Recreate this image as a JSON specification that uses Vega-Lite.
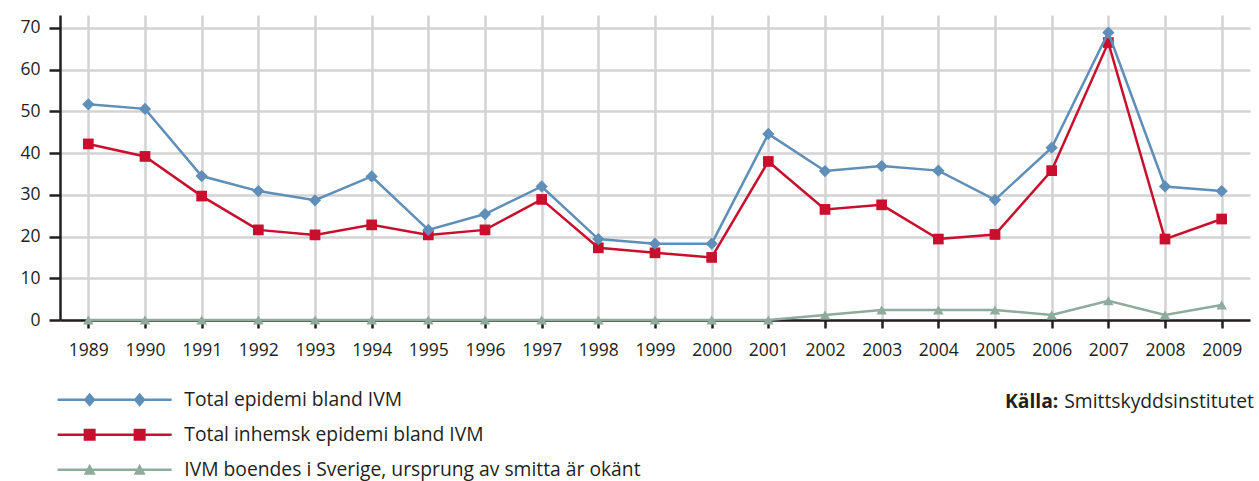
{
  "$schema": "https://vega.github.io/schema/vega-lite/v6.json",
  "autosize": {"type": "none"},
  "width": 1190,
  "height": 305,
  "padding": {"left": 60, "top": 15, "right": 9, "bottom": 161},
  "background": "white",
  "config": {
    "view": {"stroke": null},
    "font": "Open Sans"
  },
  "layer": [
    {
      "data": {"values": [
        {"year": "1989", "series": "Total epidemi bland IVM", "value": 51.7},
        {"year": "1990", "series": "Total epidemi bland IVM", "value": 50.6},
        {"year": "1991", "series": "Total epidemi bland IVM", "value": 34.5},
        {"year": "1992", "series": "Total epidemi bland IVM", "value": 30.9},
        {"year": "1993", "series": "Total epidemi bland IVM", "value": 28.7},
        {"year": "1994", "series": "Total epidemi bland IVM", "value": 34.4},
        {"year": "1995", "series": "Total epidemi bland IVM", "value": 21.6},
        {"year": "1996", "series": "Total epidemi bland IVM", "value": 25.4},
        {"year": "1997", "series": "Total epidemi bland IVM", "value": 32.0},
        {"year": "1998", "series": "Total epidemi bland IVM", "value": 19.4},
        {"year": "1999", "series": "Total epidemi bland IVM", "value": 18.3},
        {"year": "2000", "series": "Total epidemi bland IVM", "value": 18.3},
        {"year": "2001", "series": "Total epidemi bland IVM", "value": 44.6},
        {"year": "2002", "series": "Total epidemi bland IVM", "value": 35.7},
        {"year": "2003", "series": "Total epidemi bland IVM", "value": 36.9},
        {"year": "2004", "series": "Total epidemi bland IVM", "value": 35.8},
        {"year": "2005", "series": "Total epidemi bland IVM", "value": 28.8},
        {"year": "2006", "series": "Total epidemi bland IVM", "value": 41.3},
        {"year": "2007", "series": "Total epidemi bland IVM", "value": 68.9},
        {"year": "2008", "series": "Total epidemi bland IVM", "value": 32.0},
        {"year": "2009", "series": "Total epidemi bland IVM", "value": 30.9},
        {"year": "1989", "series": "Total inhemsk epidemi bland IVM", "value": 42.2},
        {"year": "1990", "series": "Total inhemsk epidemi bland IVM", "value": 39.2},
        {"year": "1991", "series": "Total inhemsk epidemi bland IVM", "value": 29.7},
        {"year": "1992", "series": "Total inhemsk epidemi bland IVM", "value": 21.6},
        {"year": "1993", "series": "Total inhemsk epidemi bland IVM", "value": 20.4},
        {"year": "1994", "series": "Total inhemsk epidemi bland IVM", "value": 22.8},
        {"year": "1995", "series": "Total inhemsk epidemi bland IVM", "value": 20.4},
        {"year": "1996", "series": "Total inhemsk epidemi bland IVM", "value": 21.6},
        {"year": "1997", "series": "Total inhemsk epidemi bland IVM", "value": 28.9},
        {"year": "1998", "series": "Total inhemsk epidemi bland IVM", "value": 17.3},
        {"year": "1999", "series": "Total inhemsk epidemi bland IVM", "value": 16.1},
        {"year": "2000", "series": "Total inhemsk epidemi bland IVM", "value": 15.0},
        {"year": "2001", "series": "Total inhemsk epidemi bland IVM", "value": 38.0},
        {"year": "2002", "series": "Total inhemsk epidemi bland IVM", "value": 26.5},
        {"year": "2003", "series": "Total inhemsk epidemi bland IVM", "value": 27.6},
        {"year": "2004", "series": "Total inhemsk epidemi bland IVM", "value": 19.4},
        {"year": "2005", "series": "Total inhemsk epidemi bland IVM", "value": 20.5},
        {"year": "2006", "series": "Total inhemsk epidemi bland IVM", "value": 35.8},
        {"year": "2007", "series": "Total inhemsk epidemi bland IVM", "value": 66.5},
        {"year": "2008", "series": "Total inhemsk epidemi bland IVM", "value": 19.4},
        {"year": "2009", "series": "Total inhemsk epidemi bland IVM", "value": 24.2},
        {"year": "1989", "series": "IVM boendes i Sverige, ursprung av smitta är okänt", "value": 0},
        {"year": "1990", "series": "IVM boendes i Sverige, ursprung av smitta är okänt", "value": 0},
        {"year": "1991", "series": "IVM boendes i Sverige, ursprung av smitta är okänt", "value": 0},
        {"year": "1992", "series": "IVM boendes i Sverige, ursprung av smitta är okänt", "value": 0},
        {"year": "1993", "series": "IVM boendes i Sverige, ursprung av smitta är okänt", "value": 0},
        {"year": "1994", "series": "IVM boendes i Sverige, ursprung av smitta är okänt", "value": 0},
        {"year": "1995", "series": "IVM boendes i Sverige, ursprung av smitta är okänt", "value": 0},
        {"year": "1996", "series": "IVM boendes i Sverige, ursprung av smitta är okänt", "value": 0},
        {"year": "1997", "series": "IVM boendes i Sverige, ursprung av smitta är okänt", "value": 0},
        {"year": "1998", "series": "IVM boendes i Sverige, ursprung av smitta är okänt", "value": 0},
        {"year": "1999", "series": "IVM boendes i Sverige, ursprung av smitta är okänt", "value": 0},
        {"year": "2000", "series": "IVM boendes i Sverige, ursprung av smitta är okänt", "value": 0},
        {"year": "2001", "series": "IVM boendes i Sverige, ursprung av smitta är okänt", "value": 0},
        {"year": "2002", "series": "IVM boendes i Sverige, ursprung av smitta är okänt", "value": 1.2},
        {"year": "2003", "series": "IVM boendes i Sverige, ursprung av smitta är okänt", "value": 2.4},
        {"year": "2004", "series": "IVM boendes i Sverige, ursprung av smitta är okänt", "value": 2.4},
        {"year": "2005", "series": "IVM boendes i Sverige, ursprung av smitta är okänt", "value": 2.4},
        {"year": "2006", "series": "IVM boendes i Sverige, ursprung av smitta är okänt", "value": 1.2},
        {"year": "2007", "series": "IVM boendes i Sverige, ursprung av smitta är okänt", "value": 4.6},
        {"year": "2008", "series": "IVM boendes i Sverige, ursprung av smitta är okänt", "value": 1.2},
        {"year": "2009", "series": "IVM boendes i Sverige, ursprung av smitta är okänt", "value": 3.6}
      ]},
      "encoding": {
        "x": {
          "field": "year", "type": "ordinal",
          "scale": {"type": "point", "padding": 0.5},
          "axis": {
            "title": null, "labelAngle": 0, "grid": true,
            "gridColor": "#d3d3d5", "gridWidth": 2.5,
            "domainColor": "#231f20", "domainWidth": 2.5,
            "tickColor": "#231f20", "tickWidth": 2.5, "tickSize": 8,
            "labelFontSize": 17.5, "labelColor": "#231f20", "labelPadding": 13,
            "labelFont": "Open Sans"
          }
        },
        "y": {
          "field": "value", "type": "quantitative",
          "scale": {"domain": [0, 73.1], "nice": false, "zero": true},
          "axis": {
            "title": null, "values": [0, 10, 20, 30, 40, 50, 60, 70],
            "grid": true, "gridColor": "#d3d3d5", "gridWidth": 2.5,
            "domainColor": "#231f20", "domainWidth": 2.5,
            "tickColor": "#231f20", "tickWidth": 2.5, "tickSize": 11,
            "labelFontSize": 17.5, "labelColor": "#231f20", "labelPadding": 9,
            "labelFont": "Open Sans"
          }
        }
      },
      "layer": [
        {
          "transform": [{"filter": {"field": "series", "equal": "IVM boendes i Sverige, ursprung av smitta är okänt"}}],
          "layer": [
            {"mark": {"type": "line", "strokeWidth": 2.5, "color": "#8eab9d"}, "encoding": {}},
            {"mark": {"type": "point", "filled": true, "opacity": 1, "shape": "triangle-up", "size": 110, "color": "#8eab9d"}, "encoding": {}}
          ]
        },
        {
          "transform": [{"filter": {"field": "series", "equal": "Total inhemsk epidemi bland IVM"}}],
          "layer": [
            {"mark": {"type": "line", "strokeWidth": 2.5, "color": "#c8102e"}, "encoding": {}},
            {"mark": {"type": "point", "filled": true, "opacity": 1, "shape": "square", "size": 115, "color": "#c8102e"}, "encoding": {}}
          ]
        },
        {
          "transform": [{"filter": {"field": "series", "equal": "Total epidemi bland IVM"}}],
          "layer": [
            {"mark": {"type": "line", "strokeWidth": 2.5, "color": "#5f8fb8"}, "encoding": {}},
            {"mark": {"type": "point", "filled": true, "opacity": 1, "shape": "diamond", "size": 150, "color": "#5f8fb8"}, "encoding": {}}
          ]
        },
        {
          "mark": {"type": "point", "filled": true, "opacity": 1, "size": 0},
          "encoding": {
            "color": {
              "field": "series", "type": "nominal",
              "scale": {
                "domain": ["Total epidemi bland IVM", "Total inhemsk epidemi bland IVM", "IVM boendes i Sverige, ursprung av smitta är okänt"],
                "range": ["#5f8fb8", "#c8102e", "#8eab9d"]
              },
              "legend": {
                "orient": "none", "legendX": -12, "legendY": 375,
                "direction": "vertical", "title": null,
                "symbolSize": 4, "symbolStrokeWidth": 0,
                "labelFontSize": 19.3, "labelFont": "Open Sans", "labelColor": "#231f20",
                "labelOffset": 117, "labelLimit": 0, "rowPadding": 15
              }
            },
            "shape": {
              "field": "series", "type": "nominal",
              "scale": {
                "domain": ["Total epidemi bland IVM", "Total inhemsk epidemi bland IVM", "IVM boendes i Sverige, ursprung av smitta är okänt"],
                "range": [
                  "M0,-1.25H114V1.25H0ZM32,-7L38,0L32,7L26,0ZM82,-7L88,0L82,7L76,0Z",
                  "M0,-1.25H114V1.25H0ZM26,-6H38V6H26ZM76,-6H88V6H76Z",
                  "M0,-1.25H114V1.25H0ZM32,-6L38,5H26ZM82,-6L88,5H76Z"
                ]
              },
              "legend": {
                "orient": "none", "legendX": -12, "legendY": 375,
                "direction": "vertical", "title": null,
                "symbolSize": 4, "symbolStrokeWidth": 0,
                "labelFontSize": 19.3, "labelFont": "Open Sans", "labelColor": "#231f20",
                "labelOffset": 117, "labelLimit": 0, "rowPadding": 15
              }
            }
          }
        }
      ]
    },
    {
      "data": {"values": [{"src": "Smittskyddsinstitutet"}]},
      "mark": {"type": "point", "size": 1},
      "encoding": {
        "opacity": {
          "field": "src", "type": "ordinal",
          "scale": {"range": [0.01, 0.01]},
          "legend": {
            "orient": "none", "legendX": 945, "legendY": 377,
            "title": "Källa:", "titleOrient": "left", "titleFontWeight": "bold",
            "titleFontSize": 19.3, "titleFont": "Open Sans", "titleColor": "#231f20",
            "titlePadding": 0, "titleBaseline": "middle", "titleAnchor": "middle",
            "labelFontSize": 19.3, "labelFont": "Open Sans", "labelColor": "#231f20",
            "labelOffset": -14, "labelLimit": 0
          }
        }
      }
    }
  ]
}
